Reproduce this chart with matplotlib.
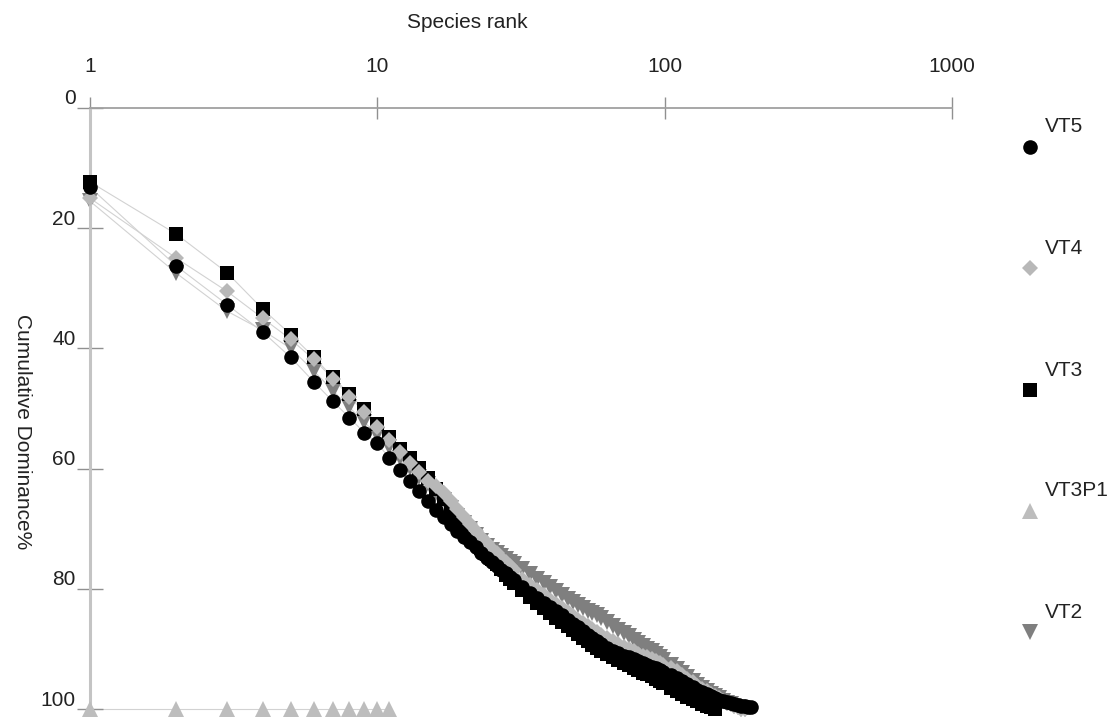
import matplotlib
matplotlib.use("Agg")
import matplotlib.pyplot as plt
from matplotlib.lines import Line2D
from matplotlib.transforms import ScaledTranslation

# -----------------------------------------
# DATA
# -----------------------------------------
# species ranks at which values were read (every rank at first, sparser in the tail)
RANKS = (list(range(1, 31)) + list(range(32, 61, 2))
         + list(range(63, 100, 3)) + list(range(105, 201, 5)))

vt5 = [
    13.2, 26.3, 32.7, 37.3, 41.5, 45.5, 48.8, 51.5, 54.0, 55.8,
    58.2, 60.2, 62.0, 63.7, 65.3,
    66.8, 68.1, 69.2, 70.3, 71.3, 72.2, 73.1, 74.0, 74.8, 75.6,
    76.2, 76.8, 77.4, 78.0, 78.5,
    79.6, 80.6, 81.5, 82.3, 83.0, 83.7, 84.4, 85.1, 85.8, 86.4,
    87.0, 87.6, 88.2, 88.7, 89.2,
    89.8, 90.3, 90.7, 91.1, 91.4, 91.7, 92.0, 92.3, 92.6, 92.9,
    93.2, 93.5, 93.8,
    94.3, 94.8, 95.3, 95.8, 96.3, 96.8, 97.2, 97.5, 97.8, 98.1,
    98.4, 98.6, 98.8, 99.0, 99.2, 99.3, 99.4, 99.5, 99.6, 99.7,
]

vt4 = [
    15.0, 25.0, 30.5, 35.0, 38.5, 41.8, 45.0, 48.0, 50.6, 53.0,
    55.2, 57.2, 59.0, 60.6, 62.1,
    62.9, 64.0, 65.4, 66.7, 68.0, 69.2, 70.3, 71.4, 72.4, 73.3,
    74.1, 74.8, 75.5, 76.1, 76.8,
    78.3, 79.3, 80.2, 81.0, 81.8, 82.5, 83.2, 83.9, 84.5, 85.1,
    85.7, 86.2, 86.7, 87.2, 87.6,
    88.2, 88.7, 89.2, 89.6, 90.0, 90.4, 90.8, 91.1, 91.4, 91.7,
    92.0, 92.3, 92.6,
    93.2, 93.7, 94.3, 94.9, 95.5, 96.1, 96.6, 97.0, 97.4, 97.8,
    98.2, 98.6, 98.9, 99.2, 99.5, 99.7, 99.9, 100.0,
]

vt3 = [
    12.3, 21.0, 27.4, 33.5, 37.7, 41.4, 44.8, 47.6, 50.1, 52.6,
    54.7, 56.7, 58.3, 59.9, 61.5,
    63.4, 65.1, 66.7, 68.2, 69.6, 70.9, 72.1, 73.2, 74.2, 75.1,
    75.9, 76.7, 77.6, 78.3, 79.0,
    80.2, 81.3, 82.3, 83.2, 84.0, 84.8, 85.5, 86.2, 86.9, 87.5,
    88.1, 88.7, 89.3, 89.8, 90.3,
    90.8, 91.3, 91.8, 92.3, 92.7, 93.1, 93.5, 93.9, 94.2, 94.5,
    94.9, 95.3, 95.7,
    96.4, 96.9, 97.4, 97.9, 98.3, 98.7, 99.1, 99.4, 99.7, 100.0,
]

vt3p1 = [100.0] * 11

vt2 = [
    15.5, 27.5, 33.8, 37.0, 40.0, 43.7, 47.0, 49.8, 52.2, 54.4,
    56.4, 58.2, 59.8, 61.3, 62.6,
    64.0, 65.2, 66.5, 67.8, 69.0, 70.1, 71.1, 72.0, 72.8, 73.5,
    74.1, 74.6, 75.1, 75.5, 75.9,
    76.7, 77.5, 78.3, 79.0, 79.7, 80.4, 81.0, 81.6, 82.1, 82.6,
    83.1, 83.6, 84.0, 84.4, 84.8,
    85.5, 86.2, 86.8, 87.4, 87.9, 88.5, 89.0, 89.5, 90.0, 90.4,
    90.9, 91.3, 91.8,
    92.6, 93.3, 94.0, 94.7, 95.3, 95.9, 96.4, 96.9, 97.4, 97.8,
    98.2, 98.6, 98.9, 99.2, 99.5, 99.7, 99.9, 100.0,
]

X_TICKS = [1, 10, 100, 1000]
Y_TICKS = [0, 20, 40, 60, 80, 100]

# name, values, marker, colour, size  (drawing order: first is at the back)
SERIES = [
    ("VT2", vt2, "v", "#7f7f7f", 11.0),
    ("VT3", vt3, "s", "#000000", 10.0),
    ("VT4", vt4, "D", "#b8b8b8", 8.5),
    ("VT5", vt5, "o", "#000000", 10.5),
    ("VT3P1", vt3p1, "^", "#bdbdbd", 12.0),
]
LEGEND_ORDER = ["VT5", "VT4", "VT3", "VT3P1", "VT2"]

# -----------------------------------------
# FIGURE
# -----------------------------------------
plt.rcParams["font.family"] = ["Liberation Sans", "DejaVu Sans"]

fig = plt.figure(figsize=(11.18, 7.17), dpi=100)
ax = fig.add_axes([90 / 1118, 0.0, (952 - 90) / 1118, 1 - 108 / 717])

ax.set_xscale("log")
ax.set_xlim(1, 1000)
ax.set_ylim(101.3, 0)

for name, vals, marker, color, size in SERIES:
    ranks = RANKS[:len(vals)]
    ax.plot(ranks, vals, color="#d2d2d2", lw=0.8, zorder=1, clip_on=False)

for i, (name, vals, marker, color, size) in enumerate(SERIES):
    ranks = RANKS[:len(vals)]
    ax.plot(ranks, vals, linestyle="none", marker=marker, color=color,
            markersize=size, markeredgewidth=0, zorder=2 + i, clip_on=False)

# -----------------------------------------
# AXES STYLE
# -----------------------------------------
ax.spines["right"].set_visible(False)
ax.spines["bottom"].set_visible(False)
ax.spines["top"].set_color("#a0a0a0")
ax.spines["top"].set_linewidth(1.3)
ax.spines["left"].set_color("#c4c4c4")
ax.spines["left"].set_linewidth(2.2)

ax.xaxis.set_ticks_position("top")
ax.xaxis.set_label_position("top")
ax.set_xticks(X_TICKS)
ax.set_xticklabels([str(t) for t in X_TICKS])
ax.minorticks_off()
ax.tick_params(axis="x", direction="inout", length=16, width=1,
               color="#909090", pad=15, labelsize=15, labelcolor="#222222")

ax.set_yticks(Y_TICKS)
ax.set_yticklabels([str(t) for t in Y_TICKS])
ax.tick_params(axis="y", direction="inout", length=19, width=1,
               color="#909090", pad=1, labelsize=15, labelcolor="#222222")

shift = ScaledTranslation(0, 0.11, fig.dpi_scale_trans)
for lab in ax.get_yticklabels():
    lab.set_transform(lab.get_transform() + shift)

fig.text(467 / 1118, 1 - 22 / 717, "Species rank", fontsize=15,
         ha="center", va="center", color="#222222")
fig.text(22 / 1118, 1 - 432 / 717, "Cumulative Dominance%", fontsize=15,
         ha="center", va="center", rotation=-90, color="#222222")

# -----------------------------------------
# LEGEND (right side)
# -----------------------------------------
legend_y = [147, 268, 390, 511, 632]
styles = {s[0]: s for s in SERIES}
for name, ypix in zip(LEGEND_ORDER, legend_y):
    _, _, marker, color, size = styles[name]
    fig.add_artist(Line2D([1030 / 1118], [1 - ypix / 717],
                          transform=fig.transFigure, linestyle="none",
                          marker=marker, color=color, markersize=size,
                          markeredgewidth=0))
    fig.text(1045 / 1118, 1 - (ypix - 20) / 717, name, fontsize=15,
             ha="left", va="center", color="#222222")

fig.savefig("out.png", dpi=100)
